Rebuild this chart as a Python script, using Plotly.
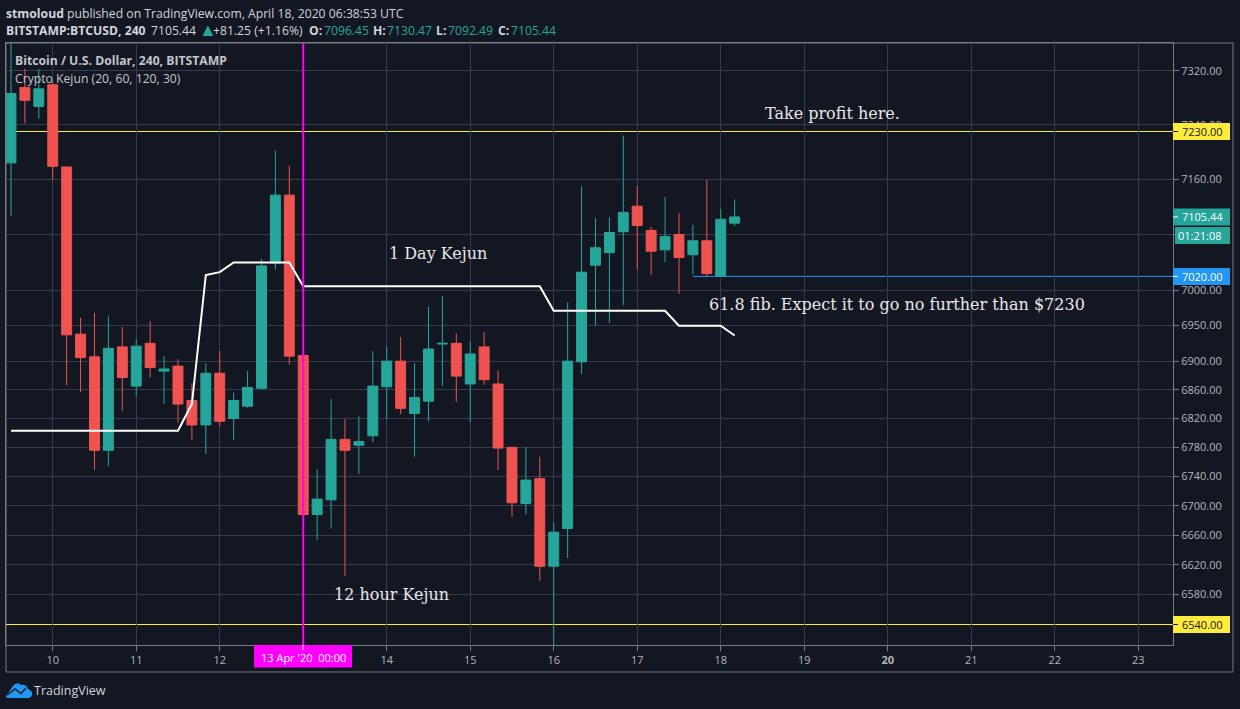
import numpy as np
import pandas as pd
import plotly.graph_objects as go

# 4 hour candles
times = pd.date_range("2020-04-09 12:00", periods=53, freq="4h")
opens = [7184, 7295, 7267, 7299, 7178, 6938, 6906, 6776, 6920, 6865, 6925, 6886, 6893, 6845,
         6811, 6883, 6820, 6837, 6862, 7039, 7137, 6908, 6688, 6708, 6791, 6783, 6796, 6864,
         6900, 6827, 6844, 6924, 6925, 6868, 6920, 6868, 6780, 6703, 6737, 6618, 6669, 6899,
         7036, 7054, 7084, 7121, 7086, 7058, 7080, 7051, 7071, 7020, 7096.45]
highs = [7365, 7323, 7323, 7305, 7178, 6961, 6968, 6963, 6948, 6931, 6956, 6907, 6903, 6869,
         6897, 6914, 6856, 6886, 7045, 7202, 7180, 6908, 6750, 6847, 6819, 6823, 6914, 6920,
         6934, 6897, 6977, 6992, 6939, 6928, 6941, 6887, 6781, 6780, 6767, 6677, 6983, 7150,
         7104, 7105, 7224, 7150, 7091, 7134, 7111, 7094, 7159, 7117, 7130.47]
lows = [7107, 7242, 7249, 7159, 6866, 6857, 6749, 6754, 6830, 6851, 6877, 6840, 6814, 6790,
        6771, 6809, 6790, 6835, 6862, 7030, 6895, 6688, 6653, 6669, 6605, 6743, 6787, 6819,
        6826, 6767, 6816, 6865, 6843, 6815, 6867, 6749, 6685, 6688, 6598, 6505, 6629, 6882,
        6950, 6954, 6979, 7030, 7022, 7040, 6995, 7023, 7019, 7020, 7092.49]
closes = [7286, 7276, 7293, 7179, 6937, 6905, 6776, 6918, 6877, 6921, 6891, 6889, 6840, 6811,
          6883, 6816, 6845, 6863, 7035, 7137, 6907, 6688, 6709, 6791, 6776, 6788, 6865, 6900,
          6834, 6849, 6917, 6925, 6879, 6910, 6874, 6779, 6704, 6735, 6618, 6664, 6900, 7026,
          7061, 7083, 7112, 7093, 7056, 7077, 7047, 7071, 7024, 7102, 7105.44]

# Crypto Kejun line, only the points where it changes
kejun_times = ["2020-04-09 12:00", "2020-04-11 12:00", "2020-04-11 16:00", "2020-04-11 20:00",
               "2020-04-12 00:00", "2020-04-12 04:00", "2020-04-12 20:00", "2020-04-13 00:00",
               "2020-04-15 20:00", "2020-04-16 00:00", "2020-04-17 08:00", "2020-04-17 12:00",
               "2020-04-18 00:00", "2020-04-18 04:00"]
kejun_values = [6803, 6803, 6840, 7022, 7026, 7040, 7040, 7006, 7006, 6971, 6971, 6950, 6950, 6936]

# horizontal levels drawn on the chart
take_profit = 7230
fib_level = 7020
bottom_level = 6540
last_price = 7105.44
fib_start = "2020-04-17 16:00"
marker_time = "2020-04-13 00:00"

# axis ticks
price_ticks = [7320, 7240, 7160, 7080, 7000, 6950, 6900, 6860, 6820, 6780, 6740, 6700, 6660, 6620, 6580]
day_ticks = pd.date_range("2020-04-10", periods=14, freq="D")
day_labels = ["10", "11", "12", "13", "14", "15", "16", "17", "18", "19", "<b>20</b>", "21", "22", "23"]
x_range = ["2020-04-09 10:34", "2020-04-23 10:00"]
y_range = [6512.78, 7361.36]

BG = "#131722"
GRID = "#363c4e"
FRAME = "#787b86"
TEXT = "#b2b5be"
UP = "#26a69a"
DOWN = "#ef5350"
YELLOW = "#ffeb3b"
BLUE = "#2196f3"
MAGENTA = "#ff00ff"
UI_FONT = "Open Sans"
NOTE_FONT = "DejaVu Serif"

# plot area in page pixels
LEFT, RIGHT, TOP, BOTTOM = 6, 1173, 43, 645


def px(x):
    return (x - LEFT) / (RIGHT - LEFT)


def py(y):
    return (BOTTOM - y) / (BOTTOM - TOP)


def price_y(price):
    # paper height of a price on the log axis
    return np.log(price / y_range[0]) / np.log(y_range[1] / y_range[0])


fig = go.Figure()

# drawings sit under the candles, same as on the original
fig.add_trace(go.Scatter(x=kejun_times, y=kejun_values, mode="lines",
                         line=dict(color="#ffffff", width=2)))
fig.add_trace(go.Scatter(x=[marker_time, marker_time], y=y_range, mode="lines",
                         line=dict(color=MAGENTA, width=2)))

fig.add_trace(go.Candlestick(
    x=times, open=opens, high=highs, low=lows, close=closes,
    increasing=dict(line=dict(color=UP, width=1), fillcolor=UP),
    decreasing=dict(line=dict(color=DOWN, width=1), fillcolor=DOWN),
))

shapes = []
annotations = []


def label(x, y, text, size=12.2, color=TEXT, family=UI_FONT, xanchor="left"):
    annotations.append(dict(xref="paper", yref="paper", x=px(x), y=py(y), text=text,
                            xanchor=xanchor, yanchor="middle", showarrow=False,
                            borderpad=0, borderwidth=0,
                            font=dict(family=family, size=size, color=color)))


# level lines
for level, start, colour in [(take_profit, x_range[0], YELLOW), (bottom_level, x_range[0], YELLOW),
                             (fib_level, fib_start, BLUE)]:
    shapes.append(dict(type="line", xref="x", yref="y", x0=start, x1=x_range[1], y0=level, y1=level,
                       line=dict(color=colour, width=1), layer="below"))

# outer frame and axis panels
shapes.append(dict(type="rect", xref="paper", yref="paper", x0=px(6), x1=px(1233), y0=py(672), y1=py(43),
                   line=dict(color=FRAME, width=1), layer="below"))


# price tags on the right axis
def price_tag(price, fill, text_color, text):
    mid = price_y(price)
    pad = 8.5 / (BOTTOM - TOP)
    shapes.append(dict(type="rect", xref="paper", yref="paper", x0=px(1173), x1=px(1230),
                       y0=mid - pad, y1=mid + pad, fillcolor=fill, line=dict(width=0), layer="above"))
    shapes.append(dict(type="line", xref="paper", yref="paper", x0=px(1173), x1=px(1178), y0=mid, y1=mid,
                       line=dict(color=text_color, width=1), layer="above"))
    annotations.append(dict(xref="paper", yref="paper", x=px(1202), y=mid, text=text,
                            xanchor="center", yanchor="middle", showarrow=False,
                            borderpad=0, borderwidth=0,
                            font=dict(family=UI_FONT, size=11, color=text_color)))


price_tag(take_profit, YELLOW, BG, "7230.00")
price_tag(last_price, UP, "#ffffff", "7105.44")
price_tag(fib_level, BLUE, "#ffffff", "7020.00")
price_tag(bottom_level, YELLOW, BG, "6540.00")

# countdown under the last price
shapes.append(dict(type="rect", xref="paper", yref="paper", x0=px(1175), x1=px(1230), y0=py(244), y1=py(227),
                   fillcolor=UP, line=dict(width=0), layer="above"))
label(1200, 235.5, "01:21:08", size=11, color="#ffffff", xanchor="center")

# date tag for the magenta line
shapes.append(dict(type="rect", xref="paper", yref="paper", x0=px(254), x1=px(352), y0=py(667.5), y1=py(645),
                   fillcolor=MAGENTA, line=dict(width=0), layer="above"))
shapes.append(dict(type="line", xref="paper", yref="paper", x0=px(303), x1=px(303), y0=py(650), y1=py(645),
                   line=dict(color="#ffffff", width=1), layer="above"))
label(303, 657, "13 Apr '20 &nbsp;00:00", size=11, color="#ffffff", xanchor="center")

# header
label(6, 13, "<b>stmoloud</b> published on TradingView.com, April 18, 2020 06:38:53 UTC", color="#d1d4dc")
label(6, 30, "<b>BITSTAMP:BTCUSD, 240</b>", color="#d1d4dc")
label(151, 30, "7105.44", color="#d1d4dc")
label(199, 29.5, "▲", size=18, color=UP)
label(213, 30, "+81.25 (+1.16%)", color="#d1d4dc")
label(309, 30, "<b>O:</b>", color="#d1d4dc")
label(324, 30, "7096.45", color=UP)
label(373, 30, "<b>H:</b>", color="#d1d4dc")
label(387, 30, "7130.47", color=UP)
label(436, 30, "<b>L:</b>", color="#d1d4dc")
label(448, 30, "7092.49", color=UP)
label(498, 30, "<b>C:</b>", color="#d1d4dc")
label(511, 30, "7105.44", color=UP)

# legend at the top left of the chart
label(15, 60, "<b>Bitcoin / U.S. Dollar, 240, BITSTAMP</b>", color="#c3c5cb")
label(15, 78, "Crypto Kejun (20, 60, 120, 30)", color="#c3c5cb")

# notes written on the chart
label(765, 113.5, "Take profit here.", size=16, color="#e8e8e8", family=NOTE_FONT)
label(389, 253.5, "1 Day Kejun", size=16, color="#e8e8e8", family=NOTE_FONT)
label(709, 304.5, "61.8 fib. Expect it to go no further than $7230", size=16, color="#e8e8e8", family=NOTE_FONT)
label(334, 594, "12 hour Kejun", size=16, color="#e8e8e8", family=NOTE_FONT)

# TradingView logo
logo = (f"M {px(6)} {py(696)} L {px(13)} {py(686)} Q {px(17)} {py(681)} {px(21)} {py(685)} "
        f"Q {px(26)} {py(684)} {px(28)} {py(689)} Q {px(33)} {py(691)} {px(32)} {py(695)} "
        f"Q {px(31)} {py(698)} {px(28)} {py(698)} L {px(9)} {py(698)} Q {px(6)} {py(698)} {px(6)} {py(696)} Z")
shapes.append(dict(type="path", xref="paper", yref="paper", path=logo,
                   fillcolor=BLUE, line=dict(width=0), layer="above"))
zigzag = (f"M {px(7)} {py(695)} L {px(15)} {py(689)} L {px(21)} {py(693.5)} L {px(26)} {py(688)}")
shapes.append(dict(type="path", xref="paper", yref="paper", path=zigzag,
                   line=dict(color=BG, width=1.5), layer="above"))
label(34, 690.5, "TradingView", size=12.5, color="#d1d4dc")

fig.update_layout(
    width=1240, height=709,
    autosize=False,
    margin=dict(l=LEFT, r=1240 - RIGHT, t=TOP, b=709 - BOTTOM, pad=0, autoexpand=False),
    paper_bgcolor=BG,
    plot_bgcolor=BG,
    showlegend=False,
    hovermode=False,
    boxgap=0.155,
    boxgroupgap=0.155,
    shapes=shapes,
    annotations=annotations,
    xaxis=dict(type="date", range=x_range, rangeslider=dict(visible=False),
               tickmode="array", tickvals=day_ticks, ticktext=day_labels,
               ticks="outside", ticklen=5, tickcolor=FRAME,
               tickfont=dict(family=UI_FONT, size=11, color=TEXT),
               gridcolor=GRID, gridwidth=1, showline=True, linecolor=FRAME, mirror=True, zeroline=False),
    yaxis=dict(type="log", range=[np.log10(y_range[0]), np.log10(y_range[1])], side="right",
               tickmode="array", tickvals=price_ticks, ticktext=[f"{v:.2f}" for v in price_ticks],
               ticks="outside", ticklen=5, tickcolor=FRAME,
               tickfont=dict(family=UI_FONT, size=11, color=TEXT),
               gridcolor=GRID, gridwidth=1, showline=True, linecolor=FRAME, mirror=True, zeroline=False),
)

# the page adds a body margin otherwise and the chart shifts by 8 pixels
fig.write_html("out.html", config=dict(displayModeBar=False),
               post_script="document.body.style.margin='0';document.body.style.background='#131722';")
